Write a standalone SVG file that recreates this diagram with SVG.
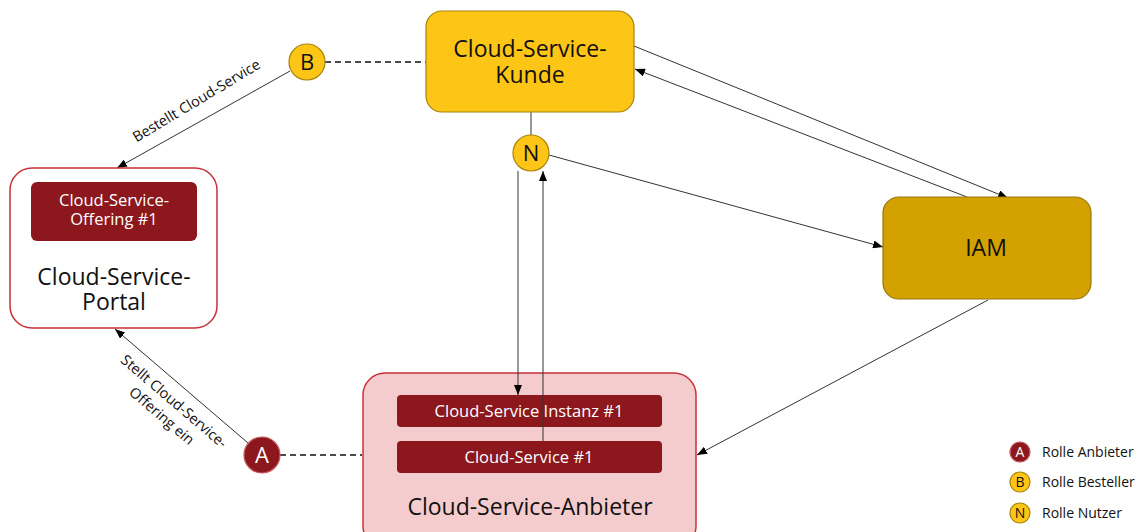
<svg xmlns="http://www.w3.org/2000/svg" width="1139" height="532" viewBox="0 0 1139 532">
  <style>
    text { font-family: "Open Sans", "Noto Sans", "Liberation Sans", sans-serif; }
    .big { font-size: 23px; fill: #111; text-anchor: middle; }
    .inner { font-size: 16.5px; fill: #fff; text-anchor: middle; }
    .lbl { font-size: 14.5px; fill: #111; text-anchor: middle; }
    .leg { font-size: 14px; fill: #111; }
    .conn { stroke: #333; stroke-width: 1; fill: none; }
    .dash { stroke: #111; stroke-width: 1.5; stroke-dasharray: 6 4; fill: none; }
    .yel { fill: #FDC516; stroke: #A88408; stroke-width: 1.2; }
    .red { fill: #8C181D; stroke: #C85A60; stroke-width: 1.2; }
    .circ { font-size: 22px; text-anchor: middle; }
    .lcirc { font-size: 14px; text-anchor: middle; }
  </style>
  <defs>
    <marker id="arr" markerWidth="10" markerHeight="8" refX="10" refY="4" orient="auto" markerUnits="userSpaceOnUse">
      <path d="M0,0 L10,4 L0,8 Z" fill="#000"/>
    </marker>
  </defs>

  <!-- connectors -->
  <g id="connectors">
    <line class="dash" x1="325" y1="62" x2="426" y2="62"/>
    <line class="dash" x1="280" y1="455" x2="362" y2="455"/>
    <line class="conn" x1="531" y1="112" x2="531" y2="135"/>
    <line class="conn" x1="290" y1="71" x2="117" y2="168" marker-end="url(#arr)"/>
    <line class="conn" x1="248" y1="443" x2="115" y2="329" marker-end="url(#arr)"/>
    <line class="conn" x1="634" y1="46" x2="1008" y2="198" marker-end="url(#arr)"/>
    <line class="conn" x1="967" y1="197" x2="635" y2="69" marker-end="url(#arr)"/>
    <line class="conn" x1="549" y1="155" x2="883" y2="247" marker-end="url(#arr)"/>
    <line class="conn" x1="988" y1="300" x2="697" y2="455" marker-end="url(#arr)"/>
    <text class="lbl" transform="translate(199,105) rotate(-31)">Bestellt Cloud-Service</text>
    <text class="lbl" transform="translate(165,412) rotate(40.5)"><tspan x="0" y="-9">Stellt Cloud-Service-</tspan><tspan x="0" y="10">Offering ein</tspan></text>
  </g>

  <!-- customer -->
  <g id="kunde">
    <rect class="yel" x="426" y="11" width="208" height="101" rx="16"/>
    <text class="big" x="530" y="57">Cloud-Service-</text>
    <text class="big" x="530" y="83">Kunde</text>
  </g>

  <!-- IAM -->
  <g id="iam">
    <rect x="883" y="197" width="208" height="102" rx="16" fill="#D3A100" stroke="#97780A" stroke-width="1.2"/>
    <text class="big" x="986" y="256">IAM</text>
  </g>

  <!-- portal -->
  <g id="portal">
    <rect x="10" y="168" width="207" height="160" rx="22" fill="#fff" stroke="#C8323A" stroke-width="1.5"/>
    <rect x="31" y="182" width="166" height="59" rx="6" fill="#8C181D"/>
    <text class="inner" x="114" y="206">Cloud-Service-</text>
    <text class="inner" x="114" y="225">Offering #1</text>
    <text class="big" x="114" y="285">Cloud-Service-</text>
    <text class="big" x="114" y="310">Portal</text>
  </g>

  <!-- provider -->
  <g id="anbieter">
    <rect x="363" y="373" width="333" height="175" rx="22" fill="#F4CCCE" stroke="#C8323A" stroke-width="1.5"/>
    <rect x="397" y="395" width="265" height="32" rx="4" fill="#8C181D"/>
    <text class="inner" x="529" y="417">Cloud-Service Instanz #1</text>
    <rect x="397" y="441" width="265" height="32" rx="4" fill="#8C181D"/>
    <text class="inner" x="529" y="463">Cloud-Service #1</text>
    <text class="big" x="530" y="515">Cloud-Service-Anbieter</text>
  </g>

  <!-- links between N and the provider items -->
  <g id="n-links">
    <line class="conn" x1="518" y1="171" x2="518" y2="395" marker-end="url(#arr)"/>
    <line class="conn" x1="543" y1="441" x2="543" y2="171" marker-end="url(#arr)"/>
  </g>

  <!-- role circles -->
  <g id="role-b">
    <circle class="yel" cx="307" cy="62" r="18"/>
    <text class="circ" x="307" y="70" fill="#111">B</text>
  </g>
  <g id="role-n">
    <circle class="yel" cx="531" cy="153" r="18"/>
    <text class="circ" x="531" y="161" fill="#111">N</text>
  </g>
  <g id="role-a">
    <circle class="red" cx="262" cy="455" r="18"/>
    <text class="circ" x="262" y="463" fill="#fff">A</text>
  </g>

  <!-- legend -->
  <g id="legend">
    <circle class="red" cx="1020" cy="452" r="10"/>
    <text class="lcirc" x="1020" y="457" fill="#fff">A</text>
    <text class="leg" x="1042" y="457">Rolle Anbieter</text>
    <circle class="yel" cx="1020" cy="482" r="10"/>
    <text class="lcirc" x="1020" y="487" fill="#111">B</text>
    <text class="leg" x="1042" y="487">Rolle Besteller</text>
    <circle class="yel" cx="1020" cy="513" r="10"/>
    <text class="lcirc" x="1020" y="518" fill="#111">N</text>
    <text class="leg" x="1042" y="518">Rolle Nutzer</text>
  </g>
</svg>
